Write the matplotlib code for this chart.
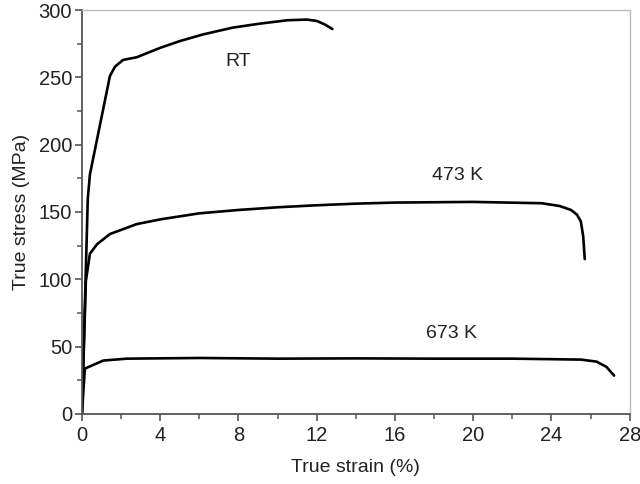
import numpy as np
import matplotlib
matplotlib.use('Agg')
import matplotlib.pyplot as plt
from matplotlib.ticker import MultipleLocator

plt.rcParams['font.family'] = ['Liberation Sans', 'DejaVu Sans']

# Curves: true strain (%) vs true stress (MPa)
rt_strain = [0, 0.3, 0.41, 1.43, 1.69, 2.1, 2.8, 4.0, 5.0, 6.2, 7.7, 9.1, 10.5, 11.5, 12.0, 12.4, 12.8]
rt_stress = [0, 160, 178, 251, 258, 263, 265, 272, 277, 282, 287, 290, 292.5, 293, 292, 289.5, 286]

k473_strain = [0, 0.2, 0.41, 0.77, 1.43, 2.8, 4.0, 6.0, 8.0, 10.0, 12.0, 14.0, 16.0, 20.0,
               23.5, 24.4, 25.0, 25.3, 25.5, 25.62, 25.7]
k473_stress = [0, 98.5, 119, 126, 133.6, 141, 144.5, 149, 151.5, 153.5, 155, 156.2, 157, 157.5,
               156.5, 154.5, 151.5, 148, 143, 132, 115]

k673_strain = [0, 0.15, 0.6, 1.1, 2.3, 6, 10, 14, 18, 22, 25.5, 26.3, 26.8, 27.2]
k673_stress = [0, 33.6, 36.5, 39.6, 41, 41.5, 41, 41.2, 41, 41, 40.3, 38.8, 35, 28.4]

labels = ['RT', '473 K', '673 K']
label_pos = [(8.0, 262), (19.2, 177), (18.9, 60)]

fig = plt.figure(figsize=(6.4, 4.84), dpi=100)
ax = fig.add_axes([0.128, 0.145, 0.856, 0.834])

for xs, ys in [(rt_strain, rt_stress), (k473_strain, k473_stress), (k673_strain, k673_stress)]:
    ax.plot(xs, ys, color='black', lw=1.9, solid_capstyle='round', solid_joinstyle='round')

for lab, (x, y) in zip(labels, label_pos):
    ax.text(x, y, lab, fontsize=14, ha='center', va='center', color='#222222')

ax.set_xlim(0, 28)
ax.set_ylim(0, 300)
ax.xaxis.set_major_locator(MultipleLocator(4))
ax.xaxis.set_minor_locator(MultipleLocator(2))
ax.yaxis.set_major_locator(MultipleLocator(50))
ax.yaxis.set_minor_locator(MultipleLocator(25))

for s in ['left', 'bottom']:
    ax.spines[s].set_color('#555555')
    ax.spines[s].set_linewidth(1.3)
for s in ['top', 'right']:
    ax.spines[s].set_color('#bbbbbb')
    ax.spines[s].set_linewidth(1.0)

ax.tick_params(which='major', direction='out', length=5, width=1.2, color='#555555',
               labelsize=14.5, labelcolor='#222222')
ax.tick_params(axis='x', which='major', pad=4)
ax.tick_params(axis='y', which='major', pad=2)
ax.tick_params(which='minor', direction='out', length=3.5, width=1.1, color='#555555')

ax.set_xlabel('True strain (%)', fontsize=14, color='#222222', labelpad=10)
ax.set_ylabel('True stress (MPa)', fontsize=14, color='#222222', labelpad=6)

fig.savefig('out.png', dpi=100)
